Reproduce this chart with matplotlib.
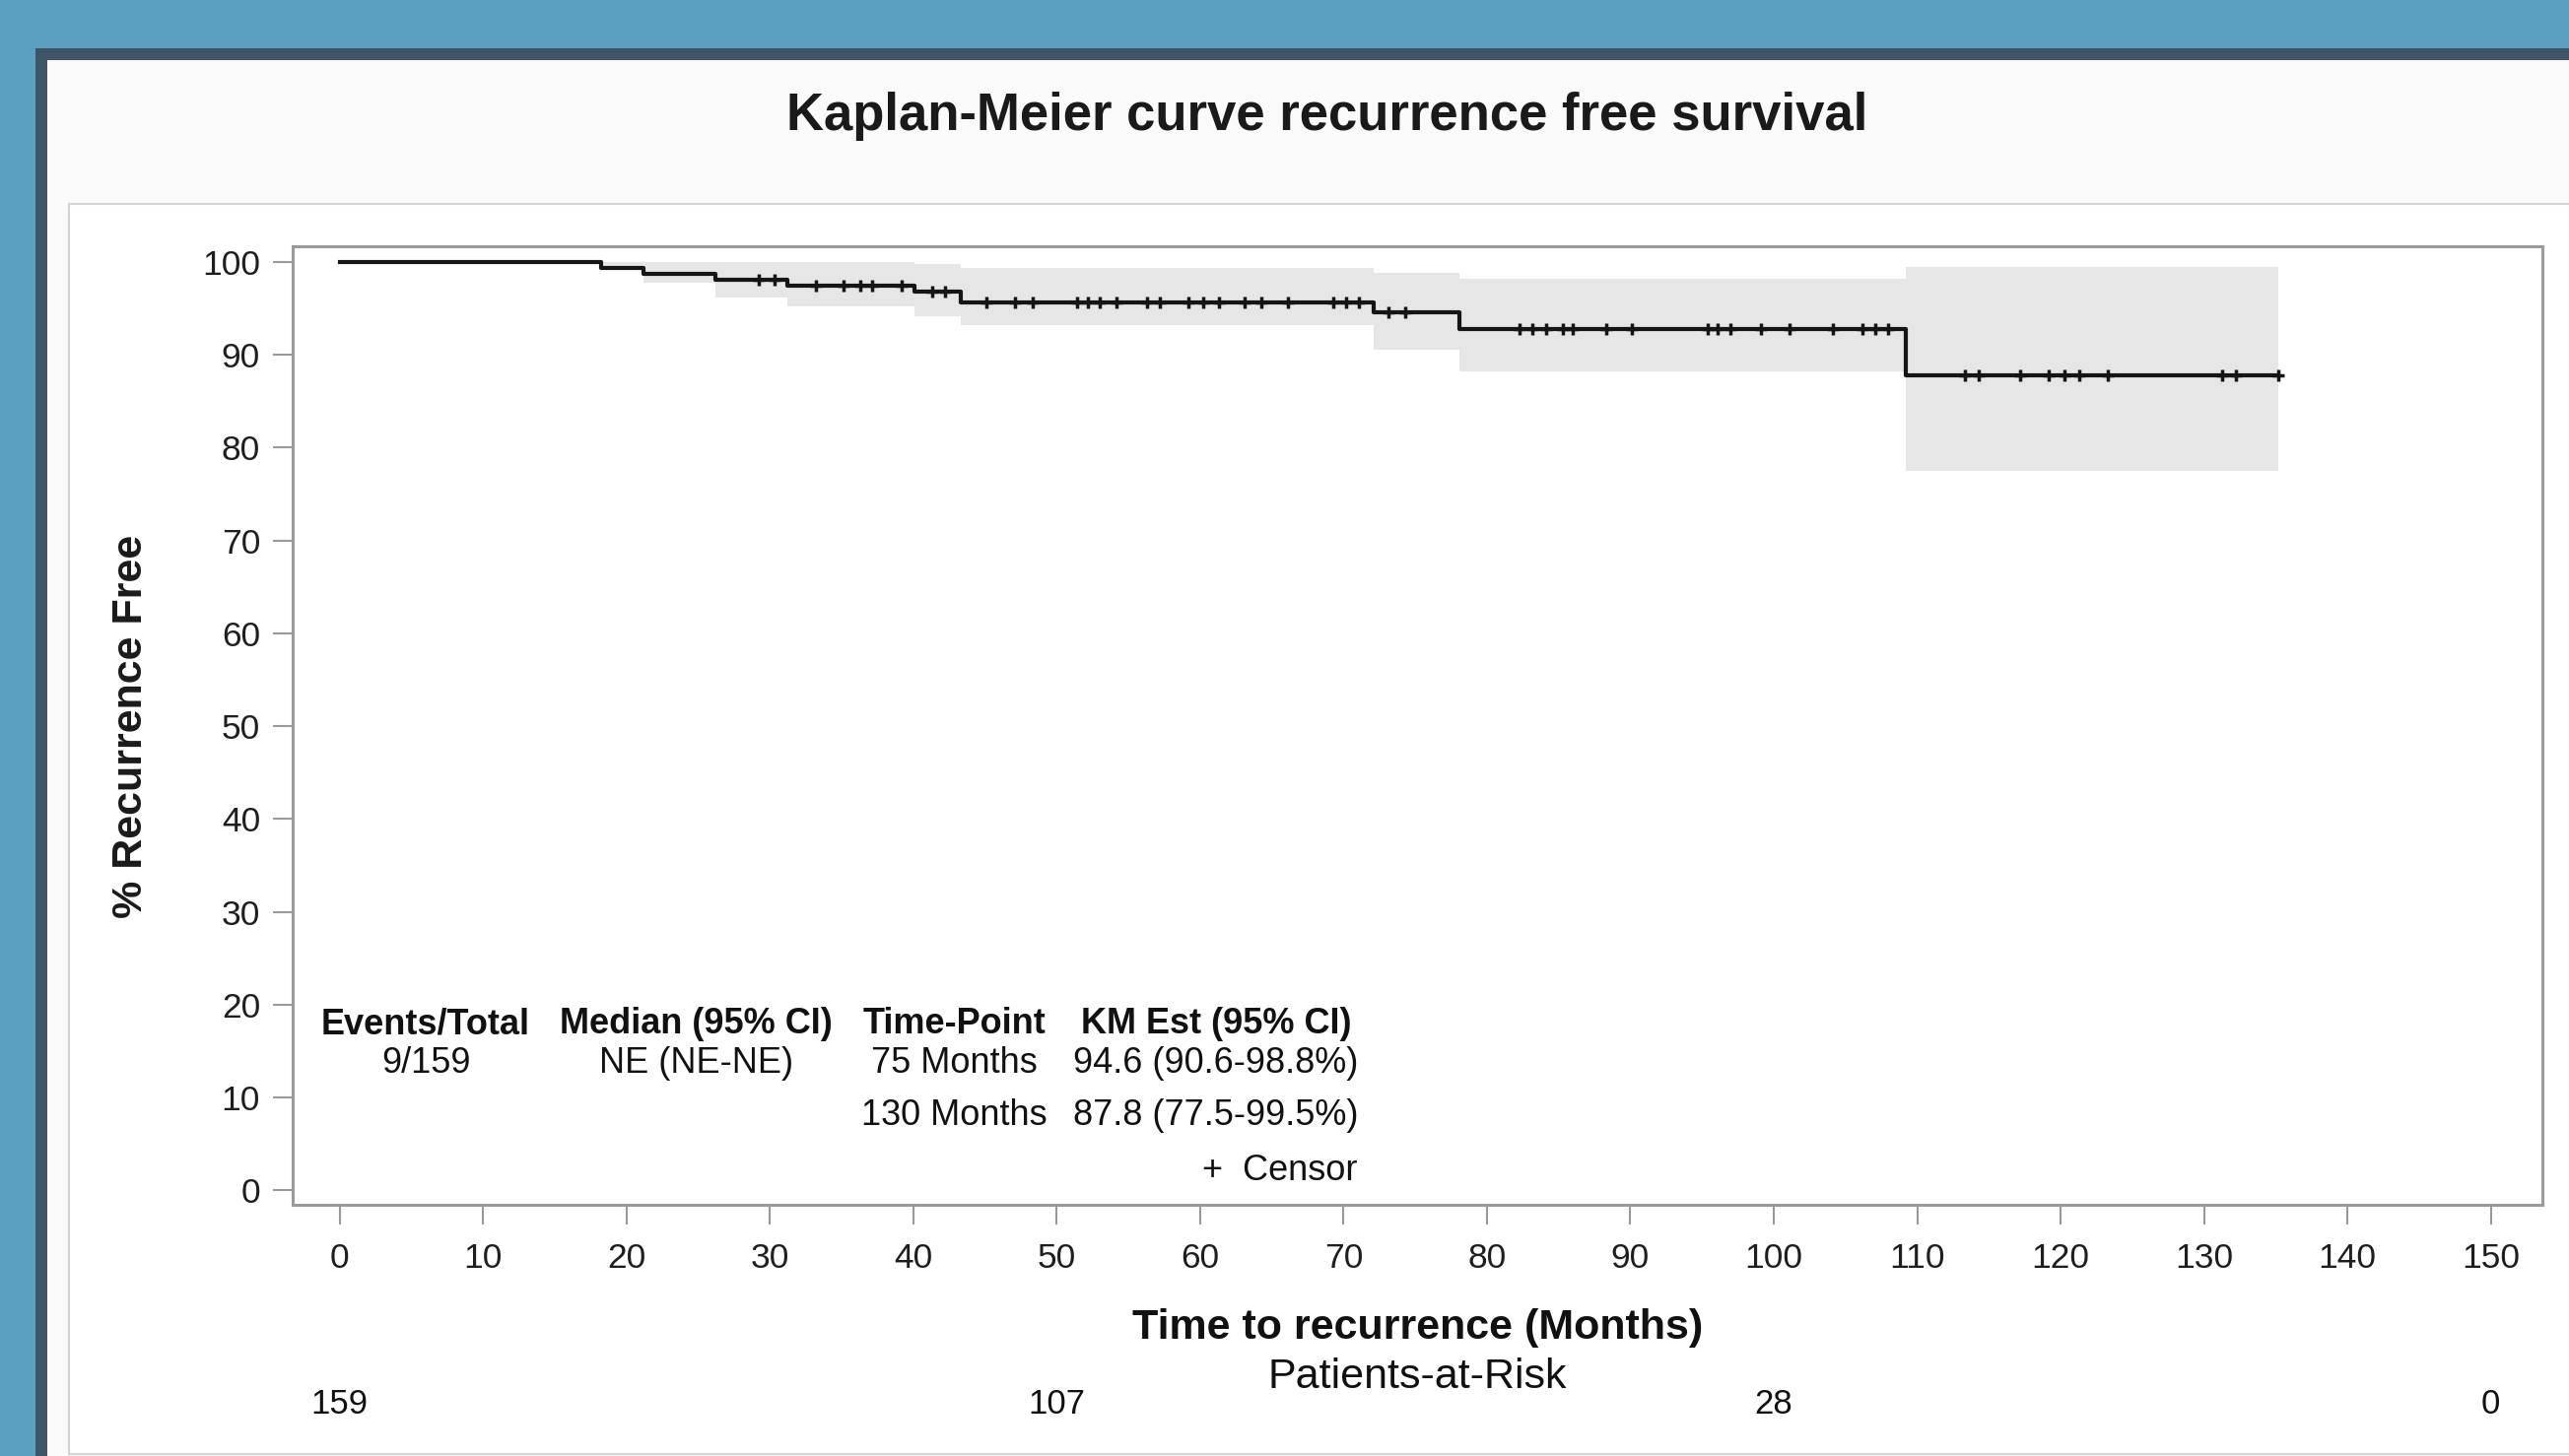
import numpy as np
import matplotlib.pyplot as plt
from matplotlib.patches import Rectangle

plt.rcParams['font.family'] = ['Liberation Sans', 'DejaVu Sans']

# KM step curve (months, % recurrence free)
event_times = [18.2, 21.2, 26.2, 31.2, 40.1, 43.3, 72.1, 78.1, 109.2]
surv_after = [99.37, 98.74, 98.1, 97.5, 96.8, 95.7, 94.6, 92.8, 87.8]
end_time = 135.2

# 95% CI band, one value per interval between events
ci_upper = [100, 100, 100, 100, 100, 99.8, 99.4, 98.8, 98.2, 99.5]
ci_lower = [100, 99.37, 97.8, 96.2, 95.2, 94.2, 93.2, 90.6, 88.2, 77.5]

censor_times = [29.2, 30.3, 33.2, 35.1, 36.3, 37.1, 39.2, 41.3, 42.2,
                45.1, 47.1, 48.3, 51.4, 52.2, 53.0, 54.2, 56.3, 57.2, 59.2,
                60.2, 61.3, 63.1, 64.3, 66.1, 69.3, 70.2, 71.1,
                73.1, 74.3,
                82.3, 83.2, 84.1, 85.3, 86.0, 88.3, 90.1, 95.4, 96.1, 97.0,
                99.1, 101.1, 104.1, 106.2, 107.1, 108.0,
                113.3, 114.3, 117.2, 119.2, 120.3, 121.3, 123.3, 131.3, 132.2, 135.2]

risk_times = [0, 50, 100, 150]
risk_counts = [159, 107, 28, 0]

tbl_headers = ['Events/Total', 'Median (95% CI)', 'Time-Point', 'KM Est (95% CI)']
tbl_row1 = ['9/159', 'NE (NE-NE)', '75 Months', '94.6 (90.6-98.8%)']
tbl_row2 = ['', '', '130 Months', '87.8 (77.5-99.5%)']

W, H = 2607, 1478
fig = plt.figure(figsize=(W / 100, H / 100), dpi=100)
fig.patch.set_facecolor('#5ba1bf')

def px_rect(x0, y0, x1, y1, **kw):
    r = Rectangle((x0 / W, 1 - y1 / H), (x1 - x0) / W, (y1 - y0) / H,
                  transform=fig.transFigure, zorder=-10, **kw)
    fig.patches.append(r)

px_rect(36, 49, 2700, 1520, facecolor='#405468', edgecolor='none')
px_rect(48, 61, 2700, 1520, facecolor='#fafafa', edgecolor='none')
px_rect(70, 207, 2700, 1476, facecolor='white', edgecolor='#d4d4d4', lw=1.5)

ax = fig.add_axes([296.7 / W, 1 - 1223 / H, (2580 - 296.7) / W, (1223 - 250) / H])
ax.set_facecolor('white')

# curve
t = [0] + event_times + [end_time]
s = [100] + surv_after + [surv_after[-1]]
ax.fill_between(t, ci_lower + [ci_lower[-1]], ci_upper + [ci_upper[-1]],
                step='post', color='#e6e6e6', lw=0, zorder=1)
ax.step(t, s, where='post', color='#151515', lw=3.0, zorder=3)

cens_y = [s[np.searchsorted(t, c, side='right') - 1] for c in censor_times]
ax.plot(censor_times, cens_y, ls='none', marker='+', ms=9, mew=2.5,
        color='#151515', zorder=4)

ax.set_xlim(-3.3, 153.6)
ax.set_ylim(-1.55, 101.7)
ax.set_xticks(range(0, 151, 10))
ax.set_yticks(range(0, 101, 10))
ax.tick_params(axis='both', length=14.5, width=1.5, color='#9a9a9a',
               labelsize=25.5, labelcolor='#1e1e1e')
ax.tick_params(axis='x', pad=13)
ax.tick_params(axis='y', pad=9)
for sp in ax.spines.values():
    sp.set_color('#9a9a9a')
    sp.set_linewidth(2.2)

# stats table inside the plot
col_x = [6.0, 24.85, 42.85, 61.1]
for cx, h, r1, r2 in zip(col_x, tbl_headers, tbl_row1, tbl_row2):
    ax.text(cx, 17.9, h, ha='center', va='center', fontsize=26,
            fontweight='bold', color='#111111')
    ax.text(cx, 13.7, r1, ha='center', va='center', fontsize=26, color='#111111')
    if r2:
        ax.text(cx, 8.1, r2, ha='center', va='center', fontsize=26, color='#111111')
ax.text(70.95, 2.1, '+  Censor', ha='right', va='center', fontsize=26, color='#111111')

# labels
fig.text(1347 / W, 1 - 118 / H, 'Kaplan-Meier curve recurrence free survival',
         ha='center', va='center', fontsize=38, fontweight='bold', color='#1a1a1a')
fig.text(133 / W, 1 - 737 / H, '% Recurrence Free', rotation=90,
         ha='center', va='center', fontsize=31, fontweight='bold', color='#1a1a1a')
ax.text(0.5, -0.128, 'Time to recurrence (Months)', transform=ax.transAxes,
        ha='center', va='center', fontsize=31, fontweight='bold', color='#111111')
ax.text(0.5, -0.1795, 'Patients-at-Risk', transform=ax.transAxes,
        ha='center', va='center', fontsize=31, color='#111111')
for rt, rc in zip(risk_times, risk_counts):
    ax.text(rt, -0.208, str(rc), transform=ax.get_xaxis_transform(),
            ha='center', va='center', fontsize=25, color='#111111')

fig.savefig('out.png', dpi=100, facecolor=fig.get_facecolor())
